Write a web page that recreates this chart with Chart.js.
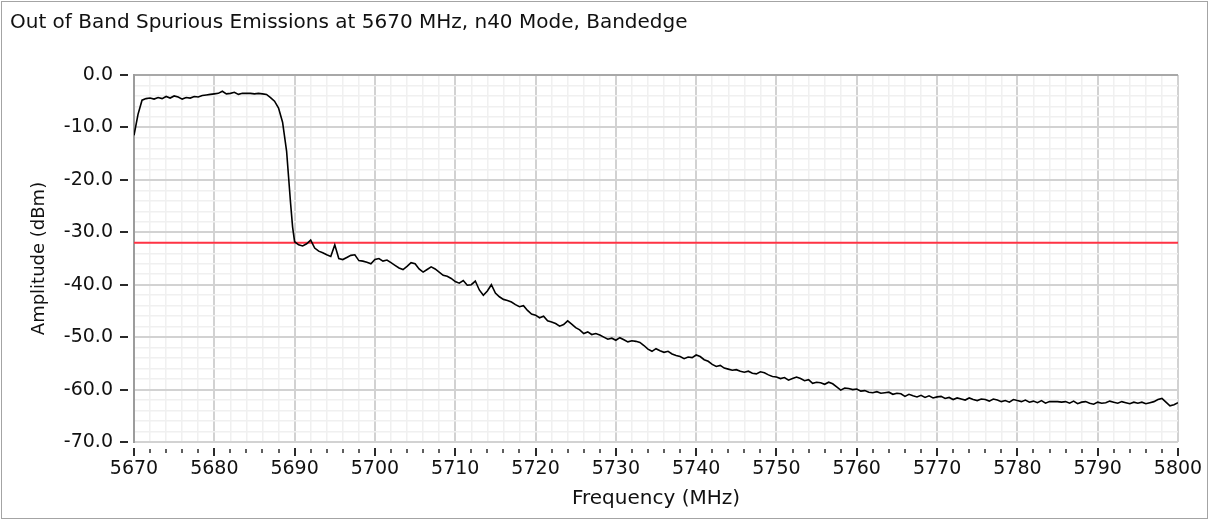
<!DOCTYPE html>
<html>
<head>
<meta charset="utf-8">
<title>Out of Band Spurious Emissions</title>
<script src="https://cdn.jsdelivr.net/npm/chart.js@4.4.1/dist/chart.umd.min.js"></script>
<style>
    html, body { margin: 0; padding: 0; background: #fff; }
    #wrap { width: 1212px; height: 521px; }
</style>
</head>
<body>
<div id="wrap"><canvas id="spurChart" width="1212" height="521"></canvas></div>
<script>
// ===== Adatok =====
const chartTitle = 'Out of Band Spurious Emissions at 5670 MHz, n40 Mode, Bandedge';
const xAxisTitle = 'Frequency (MHz)';
const yAxisTitle = 'Amplitude (dBm)';

const freqRange = [5670, 5800];
const ampRange = [-70, 0];
const limitDbm = -32;

const freqMHz = [
    5670, 5670.5, 5671, 5671.5, 5672, 5672.5, 5673, 5673.5, 5674, 5674.5,
    5675, 5675.5, 5676, 5676.5, 5677, 5677.5, 5678, 5678.5, 5679, 5679.5,
    5680, 5680.5, 5681, 5681.5, 5682, 5682.5, 5683, 5683.5, 5684, 5684.5,
    5685, 5685.5, 5686, 5686.5, 5687, 5687.5, 5688, 5688.5, 5689, 5689.25,
    5689.5, 5689.75, 5690, 5690.5, 5691, 5691.5, 5692, 5692.5, 5693, 5693.5,
    5694, 5694.5, 5695, 5695.5, 5696, 5696.5, 5697, 5697.5, 5698, 5698.5,
    5699, 5699.5, 5700, 5700.5, 5701, 5701.5, 5702, 5702.5, 5703, 5703.5,
    5704, 5704.5, 5705, 5705.5, 5706, 5706.5, 5707, 5707.5, 5708, 5708.5,
    5709, 5709.5, 5710, 5710.5, 5711, 5711.5, 5712, 5712.5, 5713, 5713.5,
    5714, 5714.5, 5715, 5715.5, 5716, 5716.5, 5717, 5717.5, 5718, 5718.5,
    5719, 5719.5, 5720, 5720.5, 5721, 5721.5, 5722, 5722.5, 5723, 5723.5,
    5724, 5724.5, 5725, 5725.5, 5726, 5726.5, 5727, 5727.5, 5728, 5728.5,
    5729, 5729.5, 5730, 5730.5, 5731, 5731.5, 5732, 5732.5, 5733, 5733.5,
    5734, 5734.5, 5735, 5735.5, 5736, 5736.5, 5737, 5737.5, 5738, 5738.5,
    5739, 5739.5, 5740, 5740.5, 5741, 5741.5, 5742, 5742.5, 5743, 5743.5,
    5744, 5744.5, 5745, 5745.5, 5746, 5746.5, 5747, 5747.5, 5748, 5748.5,
    5749, 5749.5, 5750, 5750.5, 5751, 5751.5, 5752, 5752.5, 5753, 5753.5,
    5754, 5754.5, 5755, 5755.5, 5756, 5756.5, 5757, 5757.5, 5758, 5758.5,
    5759, 5759.5, 5760, 5760.5, 5761, 5761.5, 5762, 5762.5, 5763, 5763.5,
    5764, 5764.5, 5765, 5765.5, 5766, 5766.5, 5767, 5767.5, 5768, 5768.5,
    5769, 5769.5, 5770, 5770.5, 5771, 5771.5, 5772, 5772.5, 5773, 5773.5,
    5774, 5774.5, 5775, 5775.5, 5776, 5776.5, 5777, 5777.5, 5778, 5778.5,
    5779, 5779.5, 5780, 5780.5, 5781, 5781.5, 5782, 5782.5, 5783, 5783.5,
    5784, 5784.5, 5785, 5785.5, 5786, 5786.5, 5787, 5787.5, 5788, 5788.5,
    5789, 5789.5, 5790, 5790.5, 5791, 5791.5, 5792, 5792.5, 5793, 5793.5,
    5794, 5794.5, 5795, 5795.5, 5796, 5796.5, 5797, 5797.5, 5798, 5798.5,
    5799, 5799.5, 5800
];

const ampDbm = [
    -11.5, -7.5, -4.8, -4.5, -4.4, -4.6, -4.3, -4.5, -4.1, -4.4,
    -4.0, -4.2, -4.6, -4.3, -4.4, -4.1, -4.2, -3.9, -3.8, -3.7,
    -3.6, -3.5, -3.1, -3.6, -3.5, -3.3, -3.7, -3.5, -3.5, -3.5,
    -3.6, -3.5, -3.6, -3.7, -4.3, -5.0, -6.3, -9.0, -14.5, -19.5,
    -24.5, -29.0, -31.8, -32.4, -32.6, -32.2, -31.5, -33.0, -33.6, -33.9,
    -34.3, -34.6, -32.4, -35.0, -35.2, -34.8, -34.4, -34.3, -35.4, -35.5,
    -35.7, -36.0, -35.2, -35.0, -35.5, -35.3, -35.8, -36.3, -36.8, -37.1,
    -36.5, -35.8, -36.0, -37.0, -37.6, -37.1, -36.6, -37.0, -37.6, -38.2,
    -38.4, -38.8, -39.4, -39.7, -39.2, -40.1, -40.0, -39.3, -41.0, -42.0,
    -41.2, -40.0, -41.6, -42.3, -42.8, -43.0, -43.3, -43.8, -44.2, -44.0,
    -44.9, -45.6, -45.8, -46.3, -46.0, -46.9, -47.1, -47.4, -47.9, -47.6,
    -46.9, -47.5, -48.2, -48.6, -49.3, -49.0, -49.5, -49.3, -49.6, -50.0,
    -50.4, -50.2, -50.6, -50.1, -50.5, -50.9, -50.7, -50.8, -51.0, -51.6,
    -52.3, -52.7, -52.2, -52.6, -52.9, -52.7, -53.2, -53.5, -53.7, -54.1,
    -53.8, -53.9, -53.4, -53.7, -54.3, -54.6, -55.2, -55.6, -55.4, -55.9,
    -56.1, -56.3, -56.2, -56.5, -56.7, -56.5, -56.9, -57.0, -56.6, -56.8,
    -57.2, -57.5, -57.6, -57.9, -57.7, -58.2, -57.9, -57.6, -57.9, -58.3,
    -58.1, -58.8, -58.6, -58.7, -59.0, -58.6, -58.9, -59.5, -60.1, -59.7,
    -59.8, -60.0, -59.9, -60.3, -60.2, -60.5, -60.6, -60.4, -60.7, -60.6,
    -60.5, -60.9, -60.7, -60.8, -61.3, -60.9, -61.2, -61.4, -61.1, -61.5,
    -61.2, -61.6, -61.4, -61.3, -61.7, -61.5, -61.9, -61.6, -61.8, -62.0,
    -61.6, -61.9, -62.1, -61.8, -61.9, -62.2, -61.8, -62.0, -62.3, -62.1,
    -62.4, -61.9, -62.1, -62.3, -62.0, -62.4, -62.2, -62.5, -62.1, -62.6,
    -62.3, -62.3, -62.3, -62.4, -62.3, -62.6, -62.2, -62.7, -62.4, -62.3,
    -62.6, -62.8, -62.4, -62.6, -62.5, -62.2, -62.4, -62.6, -62.3, -62.5,
    -62.7, -62.4, -62.6, -62.4, -62.7, -62.5, -62.3, -61.9, -61.7, -62.4,
    -63.1, -62.9, -62.5
];

// ===== Segédek =====
const FONT = '"DejaVu Sans", sans-serif';
const isMajor = v => Math.round(v) % 10 === 0;

function gridColor(ctx) {
    if (!ctx.tick) return 'rgba(0,0,0,0)';
    return isMajor(ctx.tick.value) ? '#d2d2d2' : '#f0f0f0';
}

// keret, cím és a kis osztásjelek (a grafikon saját skáláiból)
const framePlugin = {
    id: 'frame',
    beforeDraw(chart) {
        const c = chart.ctx;
        c.save();
        c.fillStyle = '#fff';
        c.fillRect(0, 0, chart.width, chart.height);
        c.strokeStyle = '#a4a4a4';
        c.lineWidth = 1;
        c.strokeRect(1.5, 1.5, 1206, 517);
        c.fillStyle = '#111';
        c.font = '20px ' + FONT;
        c.textBaseline = 'middle';
        c.fillText(chartTitle, 10, 23);
        c.restore();
    },
    afterDraw(chart) {
        const c = chart.ctx;
        const area = chart.chartArea;
        const xs = chart.scales.x, ys = chart.scales.y;
        c.save();
        c.strokeStyle = '#2a2a2a';
        c.lineWidth = 2;
        ys.ticks.forEach(t => {
            if (!isMajor(t.value)) return;
            const y = Math.round(ys.getPixelForValue(t.value));
            c.beginPath();
            c.moveTo(area.left - 14, y);
            c.lineTo(area.left - 6, y);
            c.stroke();
        });
        xs.ticks.forEach(t => {
            const x = Math.round(xs.getPixelForValue(t.value));
            const major = isMajor(t.value);
            c.lineWidth = major ? 2 : 1.5;
            c.beginPath();
            c.moveTo(x, area.bottom + (major ? 6 : 7));
            c.lineTo(x, area.bottom + (major ? 14 : 11));
            c.stroke();
        });
        c.restore();
    }
};

const emissionPoints = freqMHz.map((f, i) => ({ x: f, y: ampDbm[i] }));
const limitPoints = freqRange.map(f => ({ x: f, y: limitDbm }));

new Chart(document.getElementById('spurChart').getContext('2d'), {
    type: 'line',
    data: {
        datasets: [{
            label: 'Emission',
            data: emissionPoints,
            borderColor: '#000',
            borderWidth: 1.6,
            pointRadius: 0,
            tension: 0,
            fill: false
        }, {
            label: 'Limit',
            data: limitPoints,
            borderColor: '#ff3344',
            borderWidth: 2,
            pointRadius: 0,
            fill: false
        }]
    },
    options: {
        responsive: false,
        animation: false,
        devicePixelRatio: 1,
        layout: { padding: { top: 75, right: 34, bottom: 0, left: 0 } },
        plugins: {
            legend: { display: false },
            title: { display: false },
            tooltip: { enabled: false }
        },
        scales: {
            x: {
                type: 'linear',
                min: freqRange[0],
                max: freqRange[1],
                afterFit(scale) {
                    scale.height = 79;
                    scale.paddingLeft = 0;
                    scale.paddingRight = 0;
                },
                border: { display: false },
                grid: {
                    drawTicks: false,
                    color: gridColor,
                    lineWidth: ctx => (ctx.tick && isMajor(ctx.tick.value)) ? 2 : 1.5
                },
                ticks: {
                    stepSize: 2,
                    autoSkip: false,
                    maxRotation: 0,
                    padding: 16,
                    color: '#111',
                    font: { family: FONT, size: 19 },
                    callback: v => isMajor(v) ? String(v) : ''
                },
                title: {
                    display: true,
                    text: xAxisTitle,
                    color: '#111',
                    font: { family: FONT, size: 20 },
                    padding: { top: 0, bottom: 10 }
                }
            },
            y: {
                min: ampRange[0],
                max: ampRange[1],
                afterFit(scale) { scale.width = 134; },
                border: { display: true, color: '#9c9c9c', width: 2 },
                grid: {
                    drawTicks: false,
                    color: ctx => (ctx.tick && ctx.tick.value === 0) ? '#a8a8a8' : gridColor(ctx),
                    lineWidth: ctx => (ctx.tick && isMajor(ctx.tick.value)) ? 2 : 1.5
                },
                ticks: {
                    stepSize: 2,
                    autoSkip: false,
                    padding: 21,
                    color: '#111',
                    font: { family: FONT, size: 19 },
                    callback: v => isMajor(v) ? v.toFixed(1) : ''
                },
                title: {
                    display: true,
                    text: yAxisTitle,
                    color: '#111',
                    font: { family: FONT, size: 18 },
                    padding: { top: 29, bottom: 0 }
                }
            }
        }
    },
    plugins: [framePlugin]
});
</script>
</body>
</html>
